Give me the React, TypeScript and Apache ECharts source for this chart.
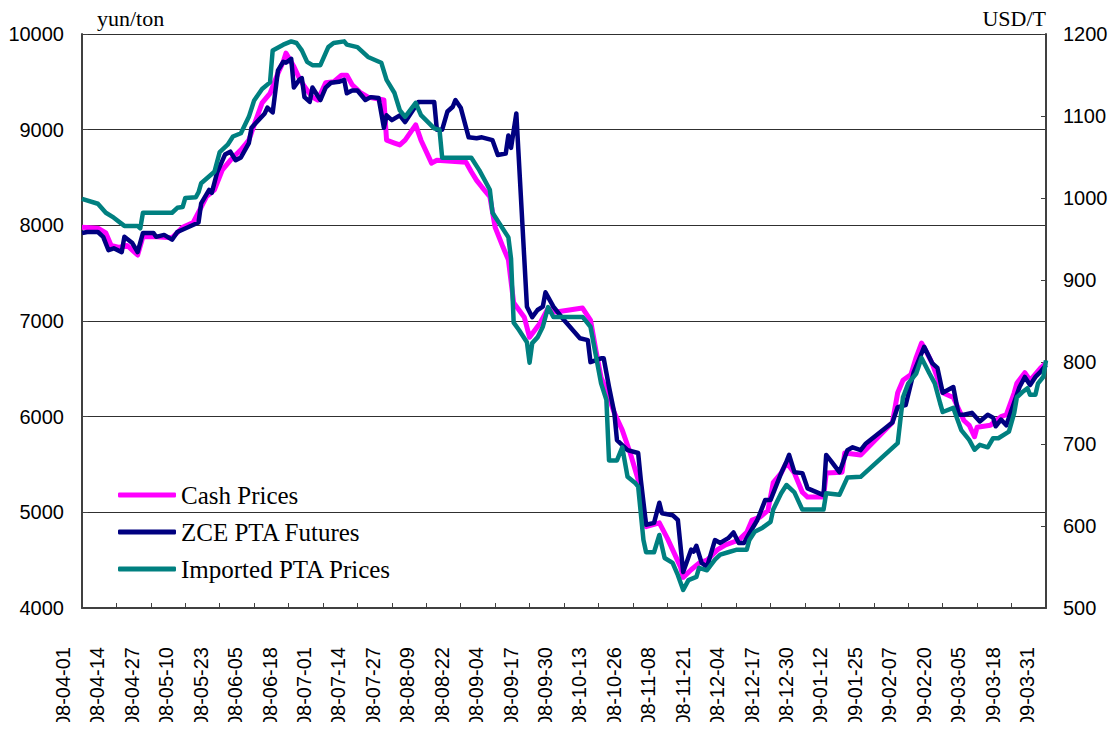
import React, { useEffect, useRef } from "react";
import * as echarts from "echarts";

// x values: days since 2008-04-01
const startDate = Date.UTC(2008, 3, 1);
const seriesNames = ["Cash Prices", "ZCE PTA Futures", "Imported PTA Prices"];
const seriesColors = ["#FF00FF", "#000080", "#008080"];

// [day, yuan/ton]
const cashPrices: [number, number][] = [[0,7980],[6,7970],[9,7920],[11,7790],[14,7770],[17,7790],[21,7690],[23,7880],[28,7880],[34,7870],[38,7980],[42,8030],[45,8190],[47,8300],[50,8370],[53,8580],[56,8680],[60,8790],[63,8890],[65,9050],[68,9280],[71,9380],[74,9590],[76,9710],[77,9800],[80,9660],[82,9540],[84,9450],[87,9340],[89,9310],[92,9490],[95,9500],[98,9570],[100,9570],[102,9470],[105,9390],[108,9340],[114,9310],[115,8890],[118,8860],[120,8840],[122,8890],[126,9050],[128,8890],[132,8650],[134,8680],[145,8660],[147,8560],[149,8470],[151,8400],[154,8300],[156,7980],[159,7770],[161,7640],[163,7190],[167,7040],[169,6830],[173,6980],[176,7135],[179,7095],[189,7135],[192,7010],[194,6700],[196,6410],[198,6280],[201,6040],[204,5860],[207,5620],[210,5340],[213,4850],[218,4890],[221,4730],[223,4610],[226,4430],[227,4320],[230,4400],[233,4470],[236,4500],[240,4610],[243,4660],[246,4690],[248,4710],[251,4790],[253,4920],[256,4950],[259,5020],[261,5310],[264,5410],[266,5520],[269,5410],[272,5210],[274,5160],[280,5160],[281,5410],[287,5420],[288,5620],[294,5600],[306,5940],[308,6250],[310,6380],[313,6440],[315,6620],[317,6770],[319,6670],[321,6560],[325,6250],[329,6200],[333,5960],[335,5910],[337,5790],[338,5890],[343,5910],[347,6000],[349,6020],[352,6250],[353,6350],[356,6460],[358,6380],[362,6510],[364,6560]];

// [day, yuan/ton]
const zceFutures: [number, number][] = [[0,7920],[2,7930],[6,7930],[8,7880],[10,7740],[12,7760],[15,7720],[16,7880],[19,7815],[21,7720],[23,7920],[27,7920],[28,7880],[31,7900],[34,7850],[36,7930],[40,7980],[44,8030],[45,8230],[48,8370],[49,8340],[51,8550],[54,8740],[56,8770],[58,8680],[60,8710],[63,8860],[64,9020],[66,9080],[69,9170],[70,9230],[72,9180],[74,9620],[76,9710],[77,9700],[79,9740],[80,9440],[82,9520],[83,9540],[84,9340],[86,9290],[87,9440],[90,9310],[92,9440],[94,9490],[97,9500],[99,9520],[100,9380],[102,9410],[104,9410],[107,9310],[109,9340],[112,9330],[114,9020],[115,9150],[117,9100],[120,9150],[122,9080],[127,9290],[133,9290],[134,9000],[136,9000],[138,9190],[140,9240],[141,9310],[143,9230],[146,8920],[149,8910],[151,8920],[155,8890],[157,8735],[160,8750],[161,8940],[162,8810],[164,9170],[168,7150],[170,7040],[172,7115],[174,7150],[175,7300],[178,7150],[182,7010],[188,6820],[191,6800],[192,6570],[196,6610],[197,6610],[199,6310],[201,6040],[202,5755],[206,5650],[210,5620],[211,5340],[213,4870],[216,4890],[218,5100],[219,4990],[223,4970],[225,4920],[227,4375],[230,4610],[231,4590],[232,4650],[234,4470],[236,4430],[239,4710],[241,4680],[244,4730],[246,4790],[248,4680],[250,4680],[252,4780],[255,4920],[258,5130],[260,5130],[264,5410],[266,5530],[267,5600],[269,5420],[272,5410],[274,5250],[280,5180],[281,5600],[283,5530],[286,5420],[289,5650],[291,5680],[294,5650],[296,5720],[306,5940],[308,6100],[311,6120],[314,6460],[318,6730],[321,6560],[323,6510],[325,6250],[329,6310],[331,6020],[333,6020],[336,6040],[339,5950],[342,6020],[344,5990],[345,5900],[347,5970],[349,5910],[354,6310],[356,6415],[358,6330],[360,6415],[362,6470],[364,6540]];

// [day, USD/T]
const importedPrices: [number, number][] = [[0,999],[6,993],[9,982],[12,976],[16,966],[21,966],[22,963],[23,982],[34,982],[36,988],[38,989],[39,1000],[43,1001],[44,1007],[45,1018],[50,1032],[52,1056],[55,1065],[57,1075],[60,1079],[63,1099],[65,1119],[68,1133],[71,1141],[72,1180],[76,1187],[79,1191],[81,1189],[83,1180],[85,1166],[87,1162],[90,1162],[93,1184],[95,1189],[99,1191],[100,1187],[104,1184],[108,1172],[113,1165],[115,1144],[118,1128],[120,1107],[122,1099],[126,1116],[128,1101],[133,1085],[135,1083],[136,1049],[147,1049],[150,1034],[154,1010],[155,982],[161,952],[162,926],[163,848],[165,839],[168,824],[169,799],[170,823],[172,830],[174,843],[176,867],[178,855],[189,855],[192,843],[196,774],[198,754],[199,680],[202,680],[204,696],[206,660],[209,652],[210,648],[212,583],[213,568],[216,568],[218,589],[220,561],[223,555],[225,540],[227,522],[229,534],[232,538],[233,549],[236,546],[239,559],[241,565],[244,568],[247,571],[251,571],[252,583],[254,593],[257,598],[260,605],[261,620],[264,640],[266,650],[269,641],[272,620],[280,620],[281,640],[286,638],[289,659],[294,660],[308,701],[310,757],[312,774],[315,786],[317,805],[320,786],[322,774],[324,750],[325,739],[329,744],[332,717],[335,705],[337,693],[339,699],[342,696],[344,707],[346,707],[350,715],[352,738],[353,757],[355,763],[357,768],[358,760],[360,760],[361,774],[363,782],[364,802]];

const leftAxisName = "yun/ton";
const rightAxisName = "USD/T";

function fmtDay(d: number): string {
  const dt = new Date(startDate + Math.round(d) * 86400000);
  const yy = String(dt.getUTCFullYear()).slice(2);
  const mm = String(dt.getUTCMonth() + 1).padStart(2, "0");
  const dd = String(dt.getUTCDate()).padStart(2, "0");
  return `${yy}-${mm}-${dd}`;
}

const AXIS_COLOR = "#404040";
const SANS = "'Liberation Sans', Arial, sans-serif";
const SERIF = "'Liberation Serif', 'Times New Roman', serif";

export default function App() {
  const ref = useRef<HTMLDivElement>(null);
  useEffect(() => {
    if (!ref.current) return;
    const chart = echarts.init(ref.current, undefined, { renderer: "svg" });
    const lineW = [5, 4.5, 4.5];
    const data = [cashPrices, zceFutures, importedPrices];
    chart.setOption({
      animation: false,
      backgroundColor: "#ffffff",
      grid: [
        { left: 82, right: 70, top: 34, bottom: 123 },
        { left: 63, right: 89, top: 34, bottom: 123 },
      ],
      legend: {
        orient: "vertical",
        left: 118,
        top: 482,
        padding: 0,
        itemWidth: 58,
        itemHeight: 5,
        itemGap: 11,
        icon: "roundRect",
        data: seriesNames,
        textStyle: { fontFamily: SERIF, fontSize: 25, color: "#000", lineHeight: 26 },
      },
      xAxis: [
        {
          type: "value",
          gridIndex: 0,
          min: 0,
          max: 364,
          interval: 13,
          axisLine: { show: true, lineStyle: { color: AXIS_COLOR, width: 2 } },
          axisTick: { show: true, inside: true, length: 5, lineStyle: { color: AXIS_COLOR, width: 1 } },
          axisLabel: { show: false },
          splitLine: { show: false },
        },
        {
          type: "value",
          gridIndex: 1,
          min: 0,
          max: 364,
          interval: 13,
          axisLine: { show: false },
          axisTick: { show: false },
          splitLine: { show: false },
          axisLabel: {
            show: true,
            rotate: 90,
            margin: 39,
            fontSize: 20,
            fontFamily: SANS,
            color: "#000",
            showMinLabel: true,
            showMaxLabel: true,
            formatter: (v: number) => fmtDay(v),
          },
        },
      ],
      yAxis: [
        {
          type: "value",
          gridIndex: 0,
          min: 4000,
          max: 10000,
          interval: 1000,
          name: leftAxisName,
          nameLocation: "end",
          nameGap: 16,
          nameTextStyle: {
            fontFamily: SERIF,
            fontSize: 22,
            color: "#000",
            align: "left",
            verticalAlign: "middle",
            padding: [0, 0, 0, 15],
          },
          axisLine: { show: true, lineStyle: { color: AXIS_COLOR, width: 2 } },
          axisTick: { show: true, inside: true, length: 6, lineStyle: { color: AXIS_COLOR, width: 1 } },
          axisLabel: { fontSize: 20, fontFamily: SANS, color: "#000", margin: 18, formatter: (v: number) => String(v) },
          splitLine: { show: true, lineStyle: { color: "#303030", width: 1 } },
        },
        {
          type: "value",
          gridIndex: 0,
          position: "right",
          min: 500,
          max: 1200,
          interval: 100,
          name: rightAxisName,
          nameLocation: "end",
          nameGap: 16,
          nameTextStyle: {
            fontFamily: SERIF,
            fontSize: 22,
            color: "#000",
            align: "right",
            verticalAlign: "middle",
          },
          axisLine: { show: true, lineStyle: { color: AXIS_COLOR, width: 2 } },
          axisTick: { show: true, inside: true, length: 5, lineStyle: { color: AXIS_COLOR, width: 1 } },
          axisLabel: { fontSize: 20, fontFamily: SANS, color: "#000", margin: 17, formatter: (v: number) => String(v) },
          splitLine: { show: false },
        },
        {
          type: "value",
          gridIndex: 1,
          show: false,
          min: 0,
          max: 1,
          splitLine: { show: false },
        },
      ],
      graphic: [
        {
          type: "rect",
          z: 100,
          shape: { x: 0, y: 722, width: 1116, height: 12 },
          style: { fill: "#ffffff" },
        },
      ],
      series: seriesNames.map((name, i) => ({
        name,
        type: "line",
        xAxisIndex: 0,
        yAxisIndex: i === 2 ? 1 : 0,
        data: data[i],
        showSymbol: false,
        symbol: "none",
        color: seriesColors[i],
        lineStyle: { color: seriesColors[i], width: lineW[i], join: "round" },
        z: 2 + i,
      })),
    });
    return () => chart.dispose();
  }, []);
  return (
    <div
      ref={ref}
      style={{ position: "absolute", left: 0, top: 0, width: 1116, height: 731 }}
    />
  );
}
